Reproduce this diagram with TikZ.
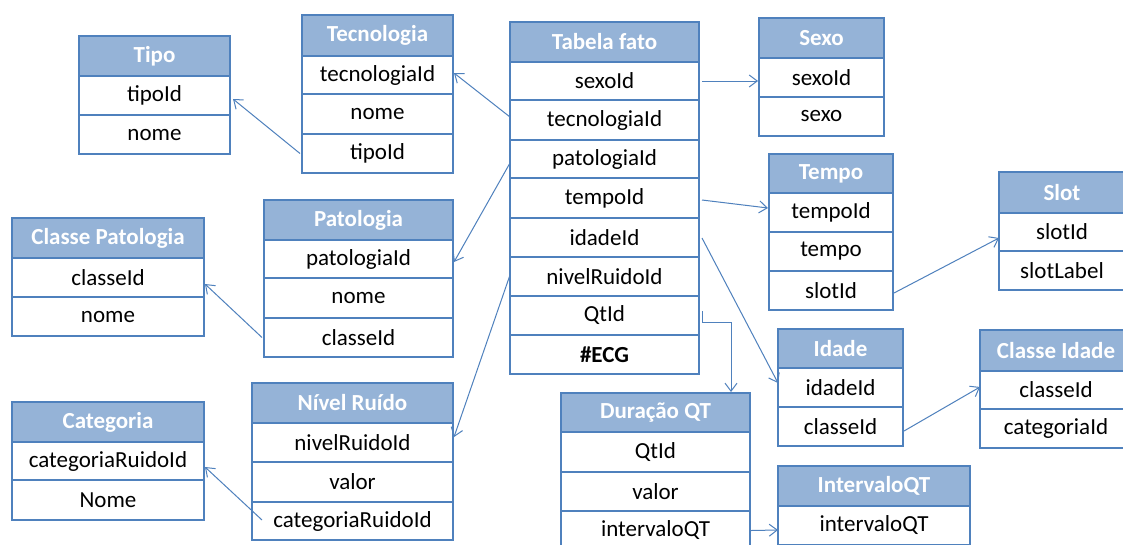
\documentclass[tikz,border=0pt]{standalone}
\usepackage{fontspec}
\setmainfont{Carlito}
\usetikzlibrary{arrows.meta,calc}
\definecolor{bordc}{RGB}{79,129,189}
\definecolor{hdrfill}{RGB}{149,179,215}
\definecolor{linkc}{RGB}{79,129,189}
\newcommand\cell[7]{\node[#1, minimum width=#5pt, minimum height={#4-#3}] (#6) at (#2,#3) {#7};}
\tikzset{
  basecell/.style={draw=bordc, line width=1.2pt, anchor=north west, inner sep=0pt, outer sep=0pt,
    font=\fontsize{23}{28}\selectfont},
  hdr/.style={basecell, fill=hdrfill, text=white, font=\fontsize{23}{28}\selectfont\bfseries},
  rowc/.style={basecell, fill=white, text=black},
  conn/.style={draw=linkc, line width=1pt, -{Straight Barb[length=8pt,width=12pt,line width=1pt]}},
}
\begin{document}
\begin{tikzpicture}[x=1pt,y=-1pt]
\useasboundingbox (0,0) rectangle (1123,544);
\clip (0,0) rectangle (1123,544);
\fill[white] (0,0) rectangle (1123,544);
% Tipo
\cell{hdr}{79}{36}{76}{151}{tipoH}{Tipo}
\cell{rowc}{79}{76}{115}{151}{tipo1}{tipoId}
\cell{rowc}{79}{115}{154}{151}{tipo2}{nome}
% Tecnologia
\cell{hdr}{302}{15}{56}{151}{tecH}{Tecnologia}
\cell{rowc}{302}{56}{94}{151}{tec1}{tecnologiaId}
\cell{rowc}{302}{94}{134}{151}{tec2}{nome}
\cell{rowc}{302}{134}{173}{151}{tec3}{tipoId}
% Tabela fato
\cell{hdr}{510}{22}{62}{189}{tfH}{Tabela fato}
\cell{rowc}{510}{62}{100}{189}{tf1}{sexoId}
\cell{rowc}{510}{100}{140}{189}{tf2}{tecnologiaId}
\cell{rowc}{510}{140}{178}{189}{tf3}{patologiaId}
\cell{rowc}{510}{178}{218}{189}{tf4}{tempoId}
\cell{rowc}{510}{218}{257}{189}{tf5}{idadeId}
\cell{rowc}{510}{257}{296}{189}{tf6}{nivelRuidoId}
\cell{rowc}{510}{296}{335}{189}{tf7}{QtId}
\cell{rowc}{510}{335}{374}{189}{tf8}{\textbf{\#ECG}}
% Sexo
\cell{hdr}{759}{18}{58}{125}{sexoH}{Sexo}
\cell{rowc}{759}{58}{97}{125}{sexo1}{sexoId}
\cell{rowc}{759}{97}{136}{125}{sexo2}{sexo}
% Tempo
\cell{hdr}{769}{154}{193}{124}{tempoH}{Tempo}
\cell{rowc}{769}{193}{232}{124}{tempo1}{tempoId}
\cell{rowc}{769}{232}{271}{124}{tempo2}{tempo}
\cell{rowc}{769}{271}{310}{124}{tempo3}{slotId}
% Slot
\cell{hdr}{999}{172}{213}{126}{slotH}{Slot}
\cell{rowc}{999}{213}{251}{126}{slot1}{slotId}
\cell{rowc}{999}{251}{290}{126}{slot2}{slotLabel}
% Idade
\cell{hdr}{778}{329}{368}{125}{idadeH}{Idade}
\cell{rowc}{778}{368}{407}{125}{idade1}{idadeId}
\cell{rowc}{778}{407}{446}{125}{idade2}{classeId}
% Classe Idade
\cell{hdr}{980}{330}{371}{152}{ciH}{Classe Idade}
\cell{rowc}{980}{371}{409}{152}{ci1}{classeId}
\cell{rowc}{980}{409}{448}{152}{ci2}{categoriaId}
% Duracao QT
\cell{hdr}{561}{393}{432}{189}{dqH}{Duração QT}
\cell{rowc}{561}{432}{472}{189}{dq1}{QtId}
\cell{rowc}{561}{472}{511}{189}{dq2}{valor}
\cell{rowc}{561}{511}{550}{189}{dq3}{intervaloQT}
% IntervaloQT
\cell{hdr}{778}{466}{506}{192}{iqH}{IntervaloQT}
\cell{rowc}{778}{506}{545}{192}{iq1}{intervaloQT}
% Patologia
\cell{hdr}{264}{200}{240}{189}{patH}{Patologia}
\cell{rowc}{264}{240}{278}{189}{pat1}{patologiaId}
\cell{rowc}{264}{278}{318}{189}{pat2}{nome}
\cell{rowc}{264}{318}{357}{189}{pat3}{classeId}
% Classe Patologia
\cell{hdr}{12}{218}{258}{192}{cpH}{Classe Patologia}
\cell{rowc}{12}{258}{297}{192}{cp1}{classeId}
\cell{rowc}{12}{297}{336}{192}{cp2}{nome}
% Nivel Ruido
\cell{hdr}{252}{383}{423}{201}{nrH}{Nível Ruído}
\cell{rowc}{252}{423}{462}{201}{nr1}{nivelRuidoId}
\cell{rowc}{252}{462}{502}{201}{nr2}{valor}
\cell{rowc}{252}{502}{540}{201}{nr3}{categoriaRuidoId}
% Categoria
\cell{hdr}{12}{402}{442}{192}{catH}{Categoria}
\cell{rowc}{12}{442}{480}{192}{cat1}{categoriaRuidoId}
\cell{rowc}{12}{480}{520}{192}{cat2}{Nome}
% connectors
\draw[conn] ($(tec3.west)+(-2,0)$) -- ($(tipo1.east)+(3,3.5)$);
\draw[conn] ($(tf2.west)+(0,-3)$) -- ($(tec1.east)+(1,-2)$);
\draw[conn] ($(tf3.west)+(0,4)$) -- ($(pat1.east)+(1,3)$);
\draw[conn] ($(tf6.west)+(0,-1.5)$) -- ($(nr1.east)+(1,-5.5)$);
\draw[conn] ($(pat3.west)+(-2,0)$) -- ($(cp1.east)+(1,6.5)$);
\draw[conn] ($(nr3.west)+(10,-1)$) -- ($(cat1.east)+(1,6)$);
\draw[conn] ($(tf1.east)+(3,0)$) -- ($(sexo1.west)+(-1,3.5)$);
\draw[conn] ($(tf4.east)+(3,2)$) -- ($(tempo1.west)+(-1,-4.5)$);
\draw[conn] ($(tf5.east)+(3,0.5)$) -- ($(idade1.west)+(0,-4.5)$);
\draw[conn] ($(tf7.east)+(3,-4.5)$) -- ++(0,11) -| ($(dqH.north east)+(-19,-1)$);
\draw[conn] ($(tempo3.east)+(1,2.5)$) -- ($(slot1.west)+(0,6)$);
\draw[conn] ($(idade2.east)+(1,4.5)$) -- ($(ci1.west)+(0,-3)$);
\draw[conn] ($(dq3.east)+(1,0)$) -- ($(iq1.west)+(0,4.5)$);
\end{tikzpicture}
\end{document}
